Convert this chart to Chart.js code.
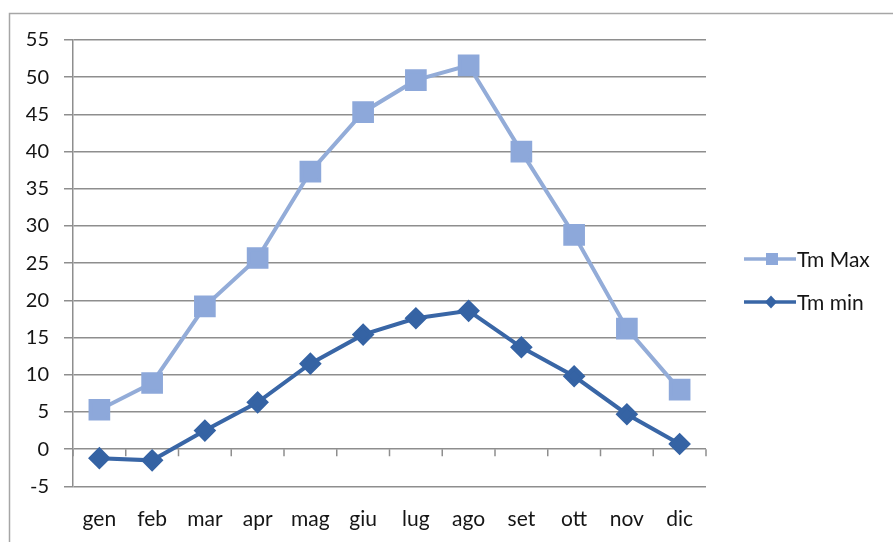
<!DOCTYPE html>
<html>
<head>
<meta charset="utf-8">
<script src="https://cdn.jsdelivr.net/npm/chart.js@4/dist/chart.umd.min.js"></script>
<style>
  html, body { margin: 0; padding: 0; background: #ffffff; }
  #wrap { width: 893px; height: 542px; }
</style>
</head>
<body>
<div id="wrap"><canvas id="c" width="893" height="542"></canvas></div>
<script>
// Monthly mean temperatures
const months = ['gen', 'feb', 'mar', 'apr', 'mag', 'giu', 'lug', 'ago', 'set', 'ott', 'nov', 'dic'];
const tmMax = [5.3, 8.9, 19.2, 25.7, 37.3, 45.3, 49.6, 51.6, 40.0, 28.8, 16.2, 8.0];
const tmMin = [-1.2, -1.5, 2.5, 6.3, 11.5, 15.4, 17.6, 18.6, 13.7, 9.8, 4.7, 0.7];
const yTicks = [-5, 0, 5, 10, 15, 20, 25, 30, 35, 40, 45, 50, 55];

const FONT = 'Lato, "Open Sans", sans-serif';
const TEXT = '#151515';
const GRID = '#8e8e8e';
const MAX_COLOR = '#93acd8';
const MIN_COLOR = '#3966a6';

// Outer frame of the chart object
const framePlugin = {
  id: 'frame',
  beforeDraw(chart) {
    const ctx = chart.ctx;
    ctx.save();
    ctx.fillStyle = '#ffffff';
    ctx.fillRect(0, 0, chart.width, chart.height);
    ctx.strokeStyle = '#a6a6a6';
    ctx.lineWidth = 1.5;
    ctx.beginPath();
    ctx.moveTo(9.5, chart.height);
    ctx.lineTo(9.5, 13.5);
    ctx.lineTo(chart.width, 13.5);
    ctx.stroke();
    ctx.restore();
  }
};

// Category tick marks on the horizontal axis crossing at zero
const zeroAxisPlugin = {
  id: 'zeroAxis',
  beforeDatasetsDraw(chart) {
    const x = chart.scales.x, y = chart.scales.y;
    const y0 = y.getPixelForValue(0);
    const step = (x.right - x.left) / months.length;
    const ctx = chart.ctx;
    ctx.save();
    ctx.strokeStyle = GRID;
    ctx.lineWidth = 1.5;
    ctx.beginPath();
    for (let i = 0; i <= months.length; i++) {
      const px = x.getPixelForValue(0) - step / 2 + i * step;
      ctx.moveTo(px, y0);
      ctx.lineTo(px, y0 + 7);
    }
    ctx.stroke();
    ctx.restore();
  }
};

// Legend at the right: line sample with marker, then the series name
const sideLegendPlugin = {
  id: 'sideLegend',
  afterDraw(chart) {
    const ctx = chart.ctx;
    const items = chart.data.datasets.map((ds, i) => ({ ds, y: i === 0 ? 259 : 302 }));
    ctx.save();
    items.forEach(({ ds, y }) => {
      ctx.strokeStyle = ds.borderColor;
      ctx.lineWidth = 3.5;
      ctx.beginPath();
      ctx.moveTo(744, y);
      ctx.lineTo(796, y);
      ctx.stroke();
      ctx.fillStyle = ds.pointBackgroundColor;
      ctx.beginPath();
      if (ds.pointStyle === 'rect') {
        ctx.rect(766, y - 6, 12, 12);
      } else {
        ctx.moveTo(771, y - 6.5);
        ctx.lineTo(777, y);
        ctx.lineTo(771, y + 6.5);
        ctx.lineTo(765, y);
        ctx.closePath();
      }
      ctx.fill();
      ctx.fillStyle = TEXT;
      ctx.font = '21px ' + FONT;
      ctx.textBaseline = 'middle';
      ctx.textAlign = 'left';
      ctx.fillText(ds.label, 797, y + 1);
    });
    ctx.restore();
  }
};

new Chart(document.getElementById('c'), {
  type: 'line',
  data: {
    labels: months,
    datasets: [
      {
        label: 'Tm Max',
        data: tmMax,
        borderColor: MAX_COLOR,
        backgroundColor: MAX_COLOR,
        pointBackgroundColor: '#8da8da',
        pointBorderColor: '#8da8da',
        pointStyle: 'rect',
        pointRadius: 12.5,
        borderWidth: 4,
        tension: 0
      },
      {
        label: 'Tm min',
        data: tmMin,
        borderColor: MIN_COLOR,
        backgroundColor: MIN_COLOR,
        pointBackgroundColor: '#3563a4',
        pointBorderColor: '#3563a4',
        pointStyle: 'rectRot',
        pointRadius: 8.5,
        borderWidth: 4,
        tension: 0
      }
    ]
  },
  options: {
    responsive: false,
    animation: false,
    devicePixelRatio: 1,
    layout: { padding: { left: 0, top: 40, right: 187, bottom: 0 } },
    plugins: {
      legend: { display: false },
      tooltip: { enabled: false }
    },
    scales: {
      x: {
        type: 'category',
        offset: true,
        grid: { display: false, drawTicks: false },
        border: { display: false },
        ticks: {
          color: TEXT,
          font: { family: FONT, size: 21 },
          padding: 20,
          maxRotation: 0,
          autoSkip: false
        },
        afterFit(scale) { scale.height = 55.6; }
      },
      y: {
        min: -5,
        max: 55,
        afterBuildTicks(scale) { scale.ticks = yTicks.map(v => ({ value: v })); },
        grid: {
          color: GRID,
          lineWidth: 1.5,
          drawTicks: true,
          tickLength: 9,
          tickColor: GRID
        },
        border: { display: true, color: GRID, width: 1.5 },
        ticks: {
          color: TEXT,
          font: { family: FONT, size: 20 },
          padding: 15
        },
        afterFit(scale) { scale.width = 73; }
      }
    }
  },
  plugins: [framePlugin, zeroAxisPlugin, sideLegendPlugin]
});
</script>
</body>
</html>
